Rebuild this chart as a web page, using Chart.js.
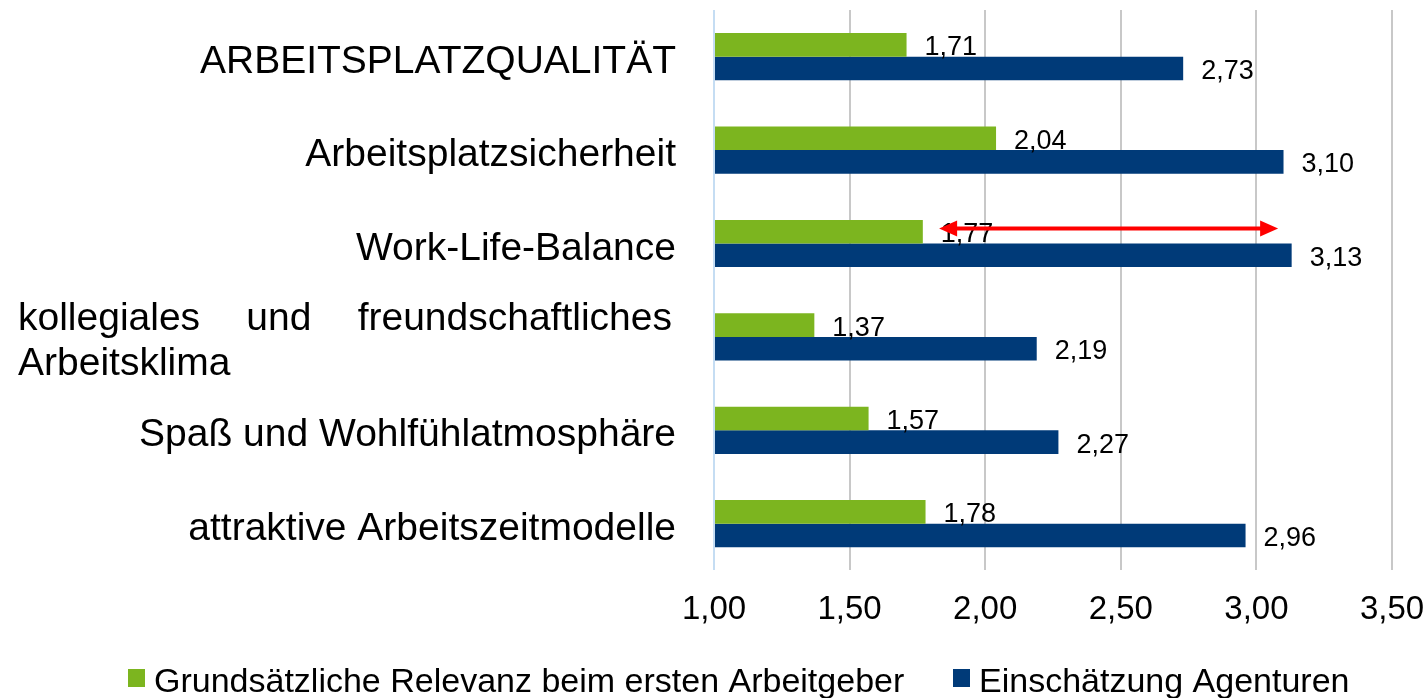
<!DOCTYPE html>
<html lang="de">
<head>
<meta charset="utf-8">
<title>Arbeitgeberattraktivität</title>
<script src="https://cdn.jsdelivr.net/npm/chart.js@4/dist/chart.umd.min.js"></script>
<style>
  html, body { margin: 0; padding: 0; background: #ffffff; }
  #wrap { width: 1425px; height: 698px; }
</style>
</head>
<body>
<div id="wrap"><canvas id="grafico" width="1425" height="698"></canvas></div>
<script>
// Kategorien (mehrzeilige Beschriftung als Array)
const kategorien = [
    'ARBEITSPLATZQUALITÄT',
    'Arbeitsplatzsicherheit',
    'Work-Life-Balance',
    ['kollegiales und freundschaftliches', 'Arbeitsklima'],
    'Spaß und Wohlfühlatmosphäre',
    'attraktive Arbeitszeitmodelle'
];
const serienNamen = ['Grundsätzliche Relevanz beim ersten Arbeitgeber', 'Einschätzung Agenturen'];
const werteRelevanz = [1.71, 2.04, 1.77, 1.37, 1.57, 1.78];
const werteAgenturen = [2.73, 3.10, 3.13, 2.19, 2.27, 2.96];
const achseMin = 1.00;
const achseMax = 3.50;
const achseSchritt = 0.50;
// roter Doppelpfeil bei Work-Life-Balance (von / bis in Achsenwerten)
const pfeilKategorie = 2;
const pfeilVonBis = [1.83, 3.08];

const farben = ['#7CB51F', '#003A78'];
const schrift = '"Liberation Sans", Arial, sans-serif';

function formatDe(v, stellen) {
    return v.toFixed(stellen).replace('.', ',');
}

// Beschriftungen, Datenwerte, Pfeil und Legende selbst zeichnen
const zeichenPlugin = {
    id: 'zeichenPlugin',
    afterDatasetsDraw(chart) {
        const ctx = chart.ctx;
        const xs = chart.scales.x;
        const ys = chart.scales.y;

        // Kategorie-Beschriftungen links
        ctx.save();
        ctx.fillStyle = '#000000';
        ctx.font = '39px ' + schrift;
        ctx.textBaseline = 'alphabetic';
        const rechts = 676, links = 18, zeilenAbstand = 45;
        kategorien.forEach((kat, i) => {
            const mitte = ys.getPixelForValue(i);
            const zeilen = Array.isArray(kat) ? kat : [kat];
            zeilen.forEach((zeile, z) => {
                const y = mitte + 16 + (z - (zeilen.length - 1) / 2) * zeilenAbstand;
                if (zeilen.length > 1 && z < zeilen.length - 1) {
                    // Blocksatz
                    const woerter = zeile.split(' ');
                    const breiten = woerter.map(w => ctx.measureText(w).width);
                    const summe = breiten.reduce((a, b) => a + b, 0);
                    const luecke = (rechts - 4 - links - summe) / (woerter.length - 1);
                    let x = links;
                    ctx.textAlign = 'left';
                    woerter.forEach((w, k) => {
                        ctx.fillText(w, x, y);
                        x += breiten[k] + luecke;
                    });
                } else if (zeilen.length > 1) {
                    ctx.textAlign = 'left';
                    ctx.fillText(zeile, links, y);
                } else {
                    ctx.textAlign = 'right';
                    ctx.fillText(zeile, rechts, y);
                }
            });
        });
        ctx.restore();

        // Datenwerte neben den Balken
        ctx.save();
        ctx.fillStyle = '#000000';
        ctx.font = '27px ' + schrift;
        ctx.textAlign = 'left';
        ctx.textBaseline = 'middle';
        chart.data.datasets.forEach((ds, d) => {
            chart.getDatasetMeta(d).data.forEach((bar, i) => {
                ctx.fillText(formatDe(ds.data[i], 2), bar.x + 18, bar.y + 3);
            });
        });
        ctx.restore();

        // roter Doppelpfeil
        ctx.save();
        const py = ys.getPixelForValue(pfeilKategorie) - 15;
        const px1 = xs.getPixelForValue(pfeilVonBis[0]);
        const px2 = xs.getPixelForValue(pfeilVonBis[1]);
        const spitze = 18, halb = 8;
        ctx.strokeStyle = '#FF0000';
        ctx.fillStyle = '#FF0000';
        ctx.lineWidth = 4;
        ctx.beginPath();
        ctx.moveTo(px1 + spitze - 2, py);
        ctx.lineTo(px2 - spitze + 2, py);
        ctx.stroke();
        ctx.beginPath();
        ctx.moveTo(px1, py);
        ctx.lineTo(px1 + spitze, py - halb);
        ctx.lineTo(px1 + spitze, py + halb);
        ctx.closePath();
        ctx.fill();
        ctx.beginPath();
        ctx.moveTo(px2, py);
        ctx.lineTo(px2 - spitze, py - halb);
        ctx.lineTo(px2 - spitze, py + halb);
        ctx.closePath();
        ctx.fill();
        ctx.restore();

        // Legende unten
        ctx.save();
        ctx.font = '34px ' + schrift;
        ctx.textAlign = 'left';
        ctx.textBaseline = 'alphabetic';
        const legX = [128, 953];
        serienNamen.forEach((name, k) => {
            ctx.fillStyle = farben[k];
            ctx.fillRect(legX[k], 669, 17, 18);
            ctx.fillStyle = '#000000';
            ctx.fillText(name, legX[k] + 26, 692);
        });
        ctx.restore();
    }
};

const ctx = document.getElementById('grafico').getContext('2d');
new Chart(ctx, {
    type: 'bar',
    data: {
        labels: kategorien,
        datasets: [
            {
                label: serienNamen[0],
                data: werteRelevanz,
                backgroundColor: farben[0],
                base: achseMin
            },
            {
                label: serienNamen[1],
                data: werteAgenturen,
                backgroundColor: farben[1],
                base: achseMin
            }
        ]
    },
    options: {
        indexAxis: 'y',
        responsive: false,
        animation: false,
        layout: {
            padding: { left: 714, right: 33, top: 10, bottom: 48 }
        },
        datasets: {
            bar: { categoryPercentage: 0.505, barPercentage: 1.0 }
        },
        plugins: {
            legend: { display: false },
            tooltip: { enabled: false }
        },
        scales: {
            x: {
                min: achseMin,
                max: achseMax,
                border: { display: false },
                afterFit: s => { s.paddingRight = 0; s.paddingLeft = 0; },
                grid: {
                    drawTicks: false,
                    lineWidth: 2,
                    color: c => (c.tick && c.tick.value === achseMin) ? '#C5DDF3' : '#C8C8C8'
                },
                ticks: {
                    stepSize: achseSchritt,
                    padding: 20,
                    color: '#000000',
                    font: { family: schrift, size: 33 },
                    maxRotation: 0,
                    callback: v => formatDe(v, 2)
                }
            },
            y: {
                display: false,
                offset: true
            }
        }
    },
    plugins: [zeichenPlugin]
});
</script>
</body>
</html>
